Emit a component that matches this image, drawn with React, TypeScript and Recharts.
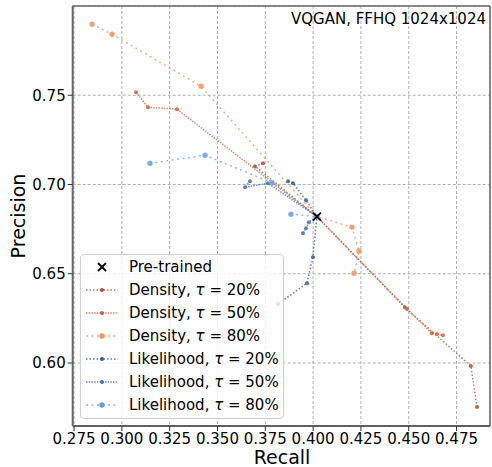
import { ScatterChart, Scatter, XAxis, YAxis, CartesianGrid, ReferenceLine } from 'recharts';

// recall / precision pairs
const pretrained: [number, number][] = [[0.402, 0.682]];

const densityTau20: [number, number][] = [
  [0.3738, 0.7119], [0.3696, 0.7102], [0.402, 0.682], [0.448, 0.6312], [0.4825, 0.5983], [0.4857, 0.5753],
];
const densityTau50: [number, number][] = [
  [0.3074, 0.7517], [0.3137, 0.7433], [0.3288, 0.7422], [0.402, 0.682], [0.4491, 0.6302],
  [0.4621, 0.6167], [0.4648, 0.6162], [0.4679, 0.6156],
];
const densityTau80: [number, number][] = [
  [0.2844, 0.7898], [0.2949, 0.7842], [0.3414, 0.755], [0.402, 0.682], [0.4203, 0.6761],
  [0.424, 0.6627], [0.4214, 0.6503],
];
const likelihoodTau20: [number, number][] = [
  [0.3869, 0.7018], [0.3895, 0.7007], [0.3963, 0.6912], [0.402, 0.682], [0.3999, 0.6593],
  [0.3968, 0.6447], [0.3816, 0.633],
];
const likelihoodTau50: [number, number][] = [
  [0.367, 0.7018], [0.3644, 0.6985], [0.3764, 0.7007], [0.402, 0.682], [0.3978, 0.6789],
  [0.3963, 0.6755], [0.3947, 0.6727],
];
const likelihoodTau80: [number, number][] = [
  [0.3147, 0.7119], [0.3435, 0.7164], [0.3785, 0.701], [0.402, 0.682], [0.3884, 0.6834],
];

const xTicks = [0.275, 0.3, 0.325, 0.35, 0.375, 0.4, 0.425, 0.45, 0.475];
const yTicks = [0.6, 0.65, 0.7, 0.75];

const FONT = '"DejaVu Sans", sans-serif';

const toPoints = (arr: [number, number][]) => arr.map(([recall, precision]) => ({ recall, precision }));

type SeriesDef = { name: string; tau: string; data: [number, number][]; color: string; dash: string; r: number };

const series: SeriesDef[] = [
  { name: 'Density', tau: '20%', data: densityTau20, color: '#a9513b', dash: '1.5 2', r: 2 },
  { name: 'Density', tau: '50%', data: densityTau50, color: '#cf603f', dash: '1.5 1.2', r: 2 },
  { name: 'Density', tau: '80%', data: densityTau80, color: '#f0935f', dash: '2 3.5', r: 2.7 },
  { name: 'Likelihood', tau: '20%', data: likelihoodTau20, color: '#3e5a8e', dash: '1.5 2', r: 2 },
  { name: 'Likelihood', tau: '50%', data: likelihoodTau50, color: '#4570ba', dash: '1.5 1.2', r: 2 },
  { name: 'Likelihood', tau: '80%', data: likelihoodTau80, color: '#6d9de0', dash: '2 3.5', r: 2.7 },
];

const dot = (color: string, r: number) => (props: any) => (
  <circle cx={props.cx} cy={props.cy} r={r} fill={color} fillOpacity={0.85} />
);

const cross = (props: any) => {
  const s = 4;
  return (
    <g stroke="#000" strokeWidth={1.8}>
      <line x1={props.cx - s} y1={props.cy - s} x2={props.cx + s} y2={props.cy + s} />
      <line x1={props.cx - s} y1={props.cy + s} x2={props.cx + s} y2={props.cy - s} />
    </g>
  );
};

function LegendBox() {
  const rowTop = 266;
  const step = 23;
  return (
    <div
      style={{
        position: 'absolute',
        left: 80,
        top: 254,
        width: 204,
        height: 165,
        boxSizing: 'border-box',
        background: 'rgba(255,255,255,0.8)',
        border: '1px solid #d0d0d0',
        borderRadius: 4,
        fontFamily: FONT,
        fontSize: 15,
        color: '#000',
      }}
    >
      {[null, ...series].map((s, i) => {
        const y = rowTop + i * step - 254;
        return (
          <div key={i} style={{ position: 'absolute', left: 0, top: y - 10, height: 20, width: '100%' }}>
            <svg width={40} height={20} style={{ position: 'absolute', left: 4, top: 0 }}>
              {s ? (
                <g>
                  <line x1={1} y1={10} x2={33} y2={10} stroke={s.color} strokeWidth={1.5} strokeDasharray={s.dash} strokeOpacity={0.8} />
                  <circle cx={17} cy={10} r={s.r} fill={s.color} />
                </g>
              ) : (
                <g stroke="#000" strokeWidth={1.8}>
                  <line x1={13} y1={6} x2={21} y2={14} />
                  <line x1={13} y1={14} x2={21} y2={6} />
                </g>
              )}
            </svg>
            <span style={{ position: 'absolute', left: 48, top: 0, lineHeight: '20px', whiteSpace: 'nowrap' }}>
              {s ? (
                <>
                  {s.name}, <i>τ</i> = {s.tau}
                </>
              ) : (
                'Pre-trained'
              )}
            </span>
          </div>
        );
      })}
    </div>
  );
}

export default function App() {
  return (
    <div style={{ position: 'absolute', left: 0, top: 0, width: 492, height: 467, background: '#fff', fontFamily: FONT }}>
      <ScatterChart width={492} height={467} margin={{ top: 6, right: 2, bottom: 0, left: 0 }}>
        <CartesianGrid stroke="#b0b0b0" strokeDasharray="3 2" />
        <XAxis
          type="number"
          dataKey="recall"
          domain={[0.2743, 0.4925]}
          ticks={xTicks}
          tickFormatter={(v: number) => v.toFixed(3)}
          height={41}
          tick={{ fill: '#000', fontSize: 15, fontFamily: FONT }}
          tickSize={5}
          tickLine={{ stroke: '#333' }}
          axisLine={{ stroke: '#333', strokeWidth: 1.5 }}
          allowDataOverflow
        />
        <YAxis
          type="number"
          dataKey="precision"
          domain={[0.5647, 0.8]}
          ticks={yTicks}
          tickFormatter={(v: number) => v.toFixed(2)}
          width={72.7}
          tick={{ fill: '#000', fontSize: 15, fontFamily: FONT }}
          tickSize={5}
          tickLine={{ stroke: '#333' }}
          axisLine={{ stroke: '#666', strokeWidth: 2 }}
          allowDataOverflow
        />
        <ReferenceLine y={0.8} stroke="#666" strokeWidth={1.5} />
        <ReferenceLine x={0.4925} stroke="#666" strokeWidth={1.5} />
        {series.map((s, i) => (
          <Scatter
            key={i}
            data={toPoints(s.data)}
            line={{ stroke: s.color, strokeWidth: 1.5, strokeDasharray: s.dash, strokeOpacity: 0.75 }}
            lineType="joint"
            shape={dot(s.color, s.r)}
            isAnimationActive={false}
          />
        ))}
        <Scatter data={toPoints(pretrained)} shape={cross} isAnimationActive={false} />
      </ScatterChart>
      <div style={{ position: 'absolute', right: 6, top: 10, fontSize: 15, whiteSpace: 'nowrap' }}>VQGAN, FFHQ 1024x1024</div>
      <div style={{ position: 'absolute', left: 282, top: 447, transform: 'translateX(-50%)', fontSize: 19, lineHeight: '20px' }}>Recall</div>
      <div
        style={{
          position: 'absolute',
          left: 18,
          top: 216,
          transform: 'translate(-50%, -50%) rotate(-90deg)',
          fontSize: 19,
          lineHeight: '20px',
          whiteSpace: 'nowrap',
        }}
      >
        Precision
      </div>
      <LegendBox />
    </div>
  );
}
